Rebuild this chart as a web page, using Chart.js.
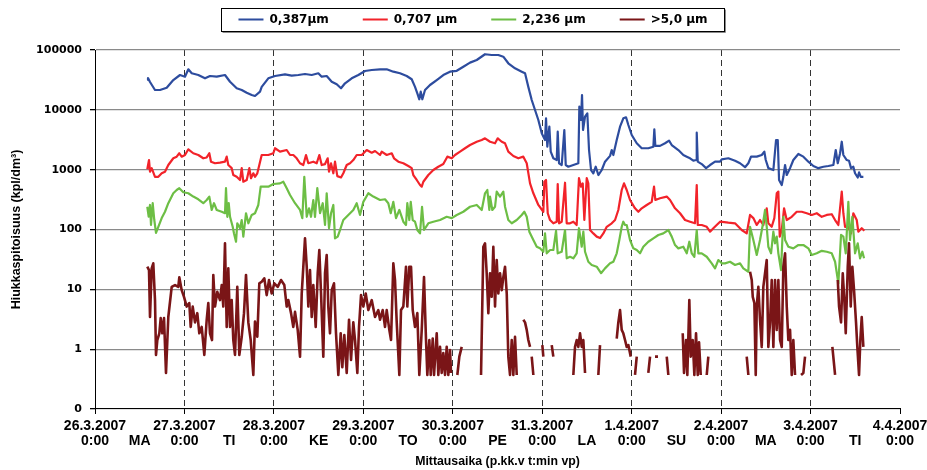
<!DOCTYPE html>
<html>
<head>
<meta charset="utf-8">
<script src="https://cdn.jsdelivr.net/npm/chart.js@4.4.1/dist/chart.umd.min.js"></script>
<style>
  html, body { margin: 0; padding: 0; background: #fff; }
  canvas { display: block; }
</style>
</head>
<body>
<canvas id="chart" width="927" height="470"></canvas>
<script>
// Particle counts per size class, hours counted from 26.3.2007 0:00
const seriesNames = ['0,387µm', '0,707 µm', '2,236 µm', '>5,0 µm'];
const dayDates = ['26.3.2007', '27.3.2007', '28.3.2007', '29.3.2007', '30.3.2007',
                  '31.3.2007', '1.4.2007', '2.4.2007', '3.4.2007', '4.4.2007'];
const dayNames = ['MA', 'TI', 'KE', 'TO', 'PE', 'LA', 'SU', 'MA', 'TI'];
const yTicks = [0.1, 1, 10, 100, 1000, 10000, 100000];

// [hour, particles per dm3]
const size0387 = [
  [14.03,31500],[14.22,34000],[14.76,29200],[16.1,21450],[17.44,21450],[19.24,23450],[21.01,31500],
  [22.81,38200],[24.15,35800],[25.04,47600],[25.95,40800],[27.72,38200],[29.52,33650],[30.86,36750],
  [32.66,35800],[34.88,38200],[36.23,29500],[38.02,22900],[39.37,21450],[40.71,19300],[42.05,17700],
  [42.93,17030],[44.28,20100],[44.73,24200],[46.5,33650],[48.3,36750],[50.98,39250],[52.78,37200],
  [54.55,38200],[56.35,39700],[58.15,38200],[59.92,40800],[60.83,35800],[62.17,36750],[63.52,29500],
  [64.86,26700],[66.01,22900],[67.09,27750],[68.88,33650],[70.66,38200],[72.45,44550],[74.25,46300],
  [76.48,47600],[78.27,47600],[80.05,43400],[81.84,40800],[83.64,36750],[84.98,32400],[85.87,24200],
  [86.49,18900],[87.02,15000],[87.4,20100],[87.83,15000],[88.55,21450],[89.89,26000],[91.69,31500],
  [93.46,38200],[95.26,43400],[97.06,44900],[98.83,52600],[100.63,61500],[102.43,68100],[104.65,85000],
  [106.45,82500],[108.22,82500],[109.56,77300],[110.9,60000],[112.7,49400],[114.5,43400],[115.39,40800],
  [116.27,24200],[117.18,14600],[118.07,9935],[118.96,6760],[119.87,4060],[120.75,3130],[121.02,7220],
  [121.37,2420],[121.91,5230],[122.28,2000],[122.98,1550],[123.89,1450],[124.16,4310],[124.51,1280],
  [125.23,1196],[125.93,4600],[126.31,1196],[127.0,1120],[128.35,1196],[129.69,1280],[129.96,11280],
  [130.41,6760],[130.68,17700],[130.95,4600],[131.49,7680],[132.1,8750],[132.56,2131],[133.1,987],
  [133.71,870],[134.36,1120],[135.06,814],[135.97,987],[136.85,1360],[138.2,1700],[138.65,2131],
  [139.08,1758],[139.99,3130],[140.88,5230],[141.76,7220],[142.49,7500],[143.11,5580],[144.02,3795],
  [145.36,2760],[146.7,2280],[148.47,2280],[149.82,2420],[150.08,4730],[150.35,2500],[151.61,2500],
  [152.95,2760],[154.03,3050],[154.75,2583],[156.52,2131],[157.86,1758],[158.78,1650],[159.66,1550],
  [160.55,1410],[161.27,1450],[161.46,4150],[161.73,1360],[162.8,1240],[163.96,1060],[165.03,1196],
  [166.37,1360],[167.72,1360],[168.17,1490],[169.94,1550],[171.74,1410],[173.08,1280],[174.42,1100],
  [175.31,1280],[176.03,1650],[177.56,1650],[178.9,1758],[179.6,2000],[179.98,1450],[180.68,1060],
  [182.02,987],[182.74,3130],[183.2,3130],[183.55,672],[184.27,554],[184.7,760],[185.16,1196],
  [185.61,814],[186.5,1060],[187.38,1450],[188.73,1830],[190.07,1650],[191.41,1360],[192.75,1150],
  [194.09,1060],[195.44,1120],[196.78,1150],[198.12,1196],[198.76,2131],[199.3,1280],[199.92,1880],
  [200.37,2930],[200.8,1758],[201.71,1450],[202.32,1410],[202.86,1060],[203.48,1120],[203.94,870],
  [204.66,740],[205.01,900],[205.47,760],[206.17,760]
];

const size0707 = [
  [14.03,1015],[14.49,1450],[14.76,925],[15.21,1060],[16.1,760],[16.99,760],[17.9,870],[18.78,925],
  [19.67,1196],[21.01,1550],[21.92,1650],[22.62,1880],[23.26,1650],[24.15,1758],[25.04,2190],
  [26.38,1880],[27.72,1758],[29.06,1550],[29.97,1600],[30.67,1880],[31.13,1360],[32.2,1280],
  [33.54,1310],[34.88,1360],[35.34,1650],[35.77,1196],[36.68,1060],[37.11,814],[38.02,760],[38.91,672],
  [39.37,1060],[39.8,628],[40.71,672],[41.41,1060],[41.86,720],[42.48,870],[42.93,760],[43.55,870],
  [44.09,1196],[44.73,1758],[46.5,1758],[47.85,1880],[48.3,2280],[49.64,2000],[51.44,2131],[52.33,1758],
  [53.21,1758],[54.12,1550],[55.01,1280],[55.89,1196],[56.62,1758],[57.24,1280],[58.58,1360],
  [59.49,1280],[60.19,1758],[60.83,1196],[61.72,1240],[62.44,1550],[62.79,925],[63.33,1280],[63.95,870],
  [64.4,1360],[65.02,780],[66.01,740],[66.63,870],[67.54,1196],[68.43,1280],[69.31,1450],[70.22,1758],
  [71.57,1758],[72.91,2131],[74.25,1920],[75.14,2050],[76.48,1758],[76.93,2000],[78.27,1758],
  [79.62,1880],[80.23,1550],[81.39,1360],[82.73,1280],[84.07,1150],[84.98,1060],[85.41,814],[86.33,672],
  [87.21,554],[87.67,520],[88.1,628],[89.44,814],[90.78,987],[92.12,1120],[93.46,1240],[94.54,1650],
  [95.72,1550],[96.6,1758],[97.95,2000],[99.29,2280],[100.63,2583],[102.43,2930],[103.77,3130],
  [104.65,3340],[106,2930],[107.34,2760],[108.06,3340],[109.14,2930],[110.02,2760],[110.9,2000],
  [112.25,1690],[113.59,1550],[114.93,1650],[115.84,1280],[116.73,590],[117.62,403],[118.96,257],
  [120.3,198],[120.57,628],[121.02,672],[121.48,187],[122.1,144],[122.98,127],[123.89,135],[124.16,576],
  [124.51,127],[125.23,135],[126.12,605],[126.57,127],[127.46,127],[128.35,135],[129.24,119],
  [129.86,720],[130.41,520],[130.87,590],[131.3,144],[131.94,720],[132.37,590],[132.83,98],[133.71,86],
  [134.62,76],[135.51,72],[136.4,86],[137.31,111],[138.65,127],[139.54,144],[140.42,212],[141.33,457],
  [141.95,590],[142.67,457],[143.56,311],[144.9,226],[145.79,198],[146.7,226],[148.04,257],[149.38,290],
  [150.0,520],[150.35,311],[151.61,333],[153.41,355],[154.3,311],[155.64,226],[156.98,187],[158.32,144],
  [159.66,135],[161.0,127],[161.46,554],[161.73,119],[162.8,119],[164.14,111],[165.03,92],[165.92,105],
  [167.72,135],[169.94,130],[171.74,127],[173.53,98],[174.87,86],[175.76,175],[176.65,155],[177.56,119],
  [178.44,144],[179.33,119],[180.24,226],[180.67,127],[181.58,111],[182.28,155],[182.93,403],
  [183.36,430],[183.73,76],[184.27,98],[184.89,226],[185.61,144],[186.95,163],[188.29,198],[189.64,198],
  [190.98,187],[192.32,175],[193.66,187],[195.0,163],[196.35,175],[197.69,180],[198.58,144],[199.46,119],
  [200.37,430],[200.8,187],[201.26,111],[202.14,111],[202.86,86],[203.48,187],[204.39,144],[204.82,92],
  [205.73,105],[206.43,95]
];

const size2236 = [
  [14.03,240],[14.4,164],[14.76,257],[15.03,119],[15.48,275],[15.91,144],[16.37,88],[16.99,111],
  [17.9,155],[18.78,198],[19.67,275],[21.01,403],[21.92,457],[22.62,490],[23.69,420],[25.04,403],
  [26.38,355],[27.72,320],[29.06,275],[29.97,311],[30.67,355],[31.32,212],[31.93,275],[32.66,212],
  [34.0,198],[34.88,187],[35.15,490],[35.5,163],[35.88,275],[36.23,163],[36.95,111],[37.3,86],
  [37.84,62.5],[38.18,127],[38.91,105],[39.37,144],[39.8,76],[40.52,187],[41.14,127],[42.05,175],
  [42.93,187],[43.82,257],[44.46,520],[46.5,520],[47.85,576],[49.64,590],[50.53,628],[51.44,490],
  [52.33,377],[53.67,275],[55.01,212],[55.63,155],[56.16,760],[56.81,163],[57.43,226],[57.96,163],
  [58.58,311],[59.03,163],[59.65,490],[60.38,187],[61.1,275],[61.72,119],[62.17,403],[62.79,105],
  [63.33,187],[63.95,257],[64.4,71],[65.13,76],[65.74,98],[66.63,144],[67.97,175],[69.31,212],
  [70.22,275],[71.11,175],[72.0,290],[73.34,403],[74.68,355],[76.48,311],[77.82,320],[78.7,275],
  [79.35,187],[80.05,290],[80.77,155],[81.66,212],[82.73,135],[83.45,119],[83.8,275],[84.34,144],
  [84.72,290],[85.25,144],[85.87,135],[86.49,98],[87.21,86],[87.75,240],[88.28,98],[89.44,127],
  [90.78,135],[92.58,144],[94.37,163],[95.72,155],[97.06,175],[98.83,198],[100.63,240],[102.43,257],
  [103.77,212],[104.65,403],[105.27,457],[105.81,212],[106.0,355],[106.61,212],[107.34,240],[107.79,430],
  [108.68,355],[109.56,430],[110.02,240],[110.9,144],[111.82,127],[113.16,144],[114.5,175],[115.2,198],
  [115.84,163],[116.54,92],[117.62,66.7],[118.53,51.5],[119.41,48.4],[120.3,42.5],[120.75,86],
  [121.21,40],[122.1,45.4],[122.98,45.4],[123.71,95],[124.16,40],[125.23,42.5],[126.12,98],[126.57,33],
  [127.46,35],[128.35,33],[129.24,40],[129.86,105],[130.6,51.5],[131.03,92],[131.49,42.5],[132.37,28.9],
  [133.28,25.5],[134.62,23.9],[135.78,18.6],[136.85,22.4],[138.2,27.2],[139.08,28.9],[139.99,40],
  [140.69,66.7],[141.33,111],[141.76,135],[142.22,119],[142.67,119],[143.56,66.7],[144.45,48.4],
  [145.36,45.4],[146.25,40],[147.13,51.5],[148.47,62.5],[149.82,71],[151.16,81],[152.5,86],[153.84,98],
  [154.75,76],[155.64,55],[156.52,48.4],[157.86,51.5],[158.78,40],[159.47,62.5],[160.12,40],[160.82,35],
  [161.46,98],[161.89,40],[162.8,40],[164.14,35],[165.48,27.2],[166.37,22.4],[167.26,30.9],[168.17,27.2],
  [169.05,27.2],[170.39,28.9],[171.74,25.5],[173.08,27.2],[173.96,22.4],[175.31,19.7],[175.76,111],
  [176.65,66.7],[177.56,37.5],[178.44,66.7],[179.17,119],[179.79,212],[180.24,111],[180.67,51.5],
  [181.4,40],[182.02,92],[182.47,58.8],[182.93,76],[183.36,40],[184.08,21],[184.7,163],[185.16,66.7],
  [186.04,51.5],[187.38,48.4],[188.73,55],[190.07,55],[191.41,48.4],[192.32,37.5],[193.66,40],[195.0,44],
  [196.35,42.5],[197.69,40],[198.58,28.9],[199.46,12.6],[200.18,81],[200.8,76],[201.44,40],[202.14,290],
  [202.59,66.7],[203.21,163],[203.94,40],[204.66,58.8],[205.28,33],[205.9,42.5],[206.35,33]
];

// null = no particles counted (gap on the log axis)
const size50 = [
  [14.03,23.9],[14.49,21],[14.76,3.45],[15.21,22.4],[15.64,27.2],[16.1,6.6],[16.37,0.8],[16.72,1.42],
  [17.26,1.84],[17.63,3.3],[18.06,1.84],[18.52,3.3],[19.05,0.4],[19.67,3.45],[20.58,11],[21.47,11.8],
  [22.35,11],[22.62,15.9],[23.26,9.7],[23.88,7.5],[24.61,5.15],[25.3,5.9],[25.68,2.35],[26.22,5.15],
  [26.83,2.8],[27.45,4.0],[27.99,1.84],[28.63,2.35],[29.33,0.8],[29.97,3.1],[30.4,5.9],[30.86,1.84],
  [31.4,1.42],[31.74,17.4],[32.2,5.15],[32.82,9.1],[33.54,6.6],[34.0,11.8],[34.43,5.15],[34.88,58.8],
  [35.34,2.35],[35.77,22.4],[36.23,2.35],[36.68,6.6],[37.11,1.42],[37.57,0.8],[38.18,11],[38.72,0.8],
  [39.37,1.61],[39.98,4.0],[40.52,17.4],[41.14,2.8],[41.78,1.42],[42.48,0.37],[42.93,2.9],[43.55,1.61],
  [44.09,12.6],[44.73,13.4],[45.43,15.3],[46.07,8],[46.69,14.3],[47.41,8.5],[48.11,12.6],[49.03,11],
  [49.91,14.3],[50.8,11.8],[51.44,5.15],[51.87,6.6],[52.6,4.0],[53.21,2.35],[53.67,4.2],[54.39,2.1],
  [55.01,0.75],[55.47,8.5],[55.9,23.9],[56.35,71],[56.81,23.9],[57.24,5.15],[57.69,21],[58.15,3.45],
  [58.58,11.8],[59.22,2.35],[59.76,18.6],[60.19,45.4],[60.65,8.5],[61.26,0.75],[61.72,18.6],[62.17,37.5],
  [62.6,5.15],[63.06,1.84],[63.52,9.7],[64.13,12.6],[64.67,1.84],[65.29,0.37],[65.93,1.84],[66.36,0.5],
  [66.9,1.72],[67.54,0.4],[68.16,3.1],[68.7,0.66],[69.31,2.8],[69.77,1.42],[70.39,0.4],[70.84,2.35],
  [71.38,8],[72.0,5.15],[72.64,8.5],[73.34,4.5],[74.25,6.6],[75.14,3.45],[76.02,4.5],[76.48,3.1],
  [77.2,4.5],[77.82,2.35],[78.27,4.5],[78.97,2.1],[79.43,1.42],[80.05,27.2],[80.5,14.3],[80.96,2.8],
  [81.66,0.37],[82.11,4.5],[82.73,5.15],[83.45,23.9],[83.8,5.15],[84.34,23.9],[84.8,23.9],[85.25,4.5],
  [85.87,2.35],[86.49,4.0],[87.02,0.37],[87.67,2.1],[88.28,16],[88.82,1.42],[89.17,0.37],[89.71,1.42],
  [90.08,0.37],[90.62,1.5],[90.97,0.37],[91.69,1.84],[92.12,0.37],[92.58,1.09],[93.03,0.4],[93.46,0.86],
  [93.92,0.37],[94.37,1.09],[94.8,0.37],[95.26,0.97],[95.53,0.4],[96.4,null],[97.22,0.37],[97.76,0.75],
  [98.4,1.09],[101,null],[103.58,0.37],[104.2,51.5],[104.65,58.8],[105.1,18.6],[105.54,4.0],[106,18.6],
  [106.45,7.5],[106.88,51.5],[107.34,5.15],[107.79,30.9],[108.22,8.5],[108.68,18.6],[109.14,9.7],
  [109.56,16],[110.02,23.9],[110.48,8.5],[110.9,0.75],[111.36,0.37],[111.82,1.42],[112.25,0.37],
  [112.7,1.61],[113.16,0.37],[114,null],[114.93,3.1],[115.39,2.8],[115.84,2.1],[116.27,1.42],[116.73,1.09],
  [116.9,null],[117.18,0.75],[117.62,0.37],[119,null],[120.03,1.17],[120.3,0.75],[121.5,null],
  [122.55,1.17],[122.98,0.75],[125,null],[128.35,0.37],[128.8,1.09],[129.26,1.42],[129.69,1.09],
  [130.15,1.84],[130.6,1.09],[131.03,1.42],[131.49,0.4],[133,null],[135.06,0.37],[135.51,1.17],[137,null],
  [139.99,1.5],[140.42,2.8],[140.88,4.5],[141.33,2.1],[141.76,1.84],[142.22,1.42],[142.67,1.09],
  [143.11,1.17],[143.75,0.75],[144.3,null],[144.9,0.37],[145.36,0.75],[147,null],[148.47,0.4],
  [148.93,0.75],[149.6,null],[150.27,0.75],[151.07,0.75],[152,null],[153.41,0.75],[153.84,0.37],
  [155,null],[157.7,1.84],[158.05,0.4],[158.59,1.42],[158.94,0.37],[159.47,6.6],[159.85,0.75],
  [160.39,1.42],[160.82,0.37],[161.27,1.84],[161.73,0.37],[162.08,1.3],[162.53,0.37],[163.3,null],
  [164.14,0.37],[164.57,0.75],[170,null],[174.87,0.75],[175.31,0.37],[175.5,null],[175.76,19.7],
  [176.22,14.3],[176.49,7.5],[176.92,5.9],[177.29,0.37],[177.56,5.15],[177.99,11],[178.44,3.1],
  [178.9,1.09],[179.33,11],[179.79,18.6],[180.24,30.9],[180.67,1.09],[181.13,2.8],[181.58,14.3],
  [182.02,1.09],[182.47,14.3],[182.93,2.1],[183.36,14.3],[183.82,1.42],[184.27,1.09],[184.7,23.9],
  [185.16,40],[185.61,5.15],[186.04,1.42],[186.5,2.1],[186.95,0.37],[187.38,1.42],[187.84,0.37],
  [188.6,null],[189.45,0.37],[190.07,0.4],[190.52,0.75],[194,null],[197.85,1.09],[198.58,0.37],
  [198.9,null],[199.3,14.3],[199.65,5.15],[200.18,2.8],[200.64,18.6],[201.07,6.6],[201.44,1.84],
  [201.98,23.9],[202.32,58.8],[202.78,5.15],[203.21,23.9],[203.67,9.7],[204.2,2.8],[204.55,1.09],
  [205.01,0.37],[205.36,1.42],[205.73,3.45],[206.17,1.09]
];

const seriesColors = ['#2D4C9E', '#F2232A', '#6DBE45', '#7A1517'];
const seriesWidths = [2.2, 2.2, 2.2, 2.6];

const HOURS_PER_DAY = 24;
const lastHour = (dayDates.length - 1) * HOURS_PER_DAY;
const xTickHours = [];
for (let h = 0; h <= lastHour; h += HOURS_PER_DAY / 2) xTickHours.push(h);

const LEGEND_PAD = 34;
const LEGEND_FONT = 12;
const ARIAL = "'Liberation Sans', Arial, sans-serif";

Chart.defaults.font.family = "'DejaVu Sans', 'Liberation Sans', sans-serif";
Chart.defaults.font.weight = 'bold';
Chart.defaults.color = '#000';

const toPoints = rows => rows.map(([h, v]) => ({ x: h, y: v }));
const isMidnight = v => v % HOURS_PER_DAY === 0;

// legend sits in a framed strip above the plot
const legendFrame = {
  id: 'legendFrame',
  beforeLayout(chart) {
    const lg = chart.legend;
    if (lg && !lg._heightFixed) {
      const fit = lg.fit.bind(lg);
      lg.fit = function () { fit(); this.height = 50; };
      lg._heightFixed = true;
    }
  },
  afterLayout(chart) {
    const lg = chart.legend;
    const dy = 13.5 - LEGEND_PAD - LEGEND_FONT / 2 + 6;
    lg.top += dy; lg.bottom += dy;
    lg.left += 23; lg.right += 23;
  },
  afterDraw(chart) {
    const lg = chart.legend;
    const w = lg.lineWidths[0] - LEGEND_PAD;
    const cx = (lg.left + lg.right) / 2;
    const x0 = Math.round(cx - w / 2 - 17) + 0.5;
    const fw = Math.round(w + 34);
    const ctx = chart.ctx;
    ctx.save();
    ctx.strokeStyle = '#8a8a8a';
    ctx.lineWidth = 1;
    ctx.beginPath();
    ctx.moveTo(x0 + 1, 32.5); ctx.lineTo(x0 + fw + 1, 32.5); ctx.lineTo(x0 + fw + 1, 9.5);
    ctx.stroke();
    ctx.strokeStyle = '#000';
    ctx.strokeRect(x0, 8.5, fw, 23);
    ctx.restore();
  }
};

const datasets = [size0387, size0707, size2236, size50].map((rows, i) => ({
  label: seriesNames[i],
  data: toPoints(rows),
  borderColor: seriesColors[i],
  backgroundColor: seriesColors[i],
  borderWidth: seriesWidths[i],
  pointRadius: 0,
  tension: 0,
  fill: false,
  spanGaps: false,
  borderJoinStyle: 'round',
  order: 4 - i
}));

new Chart(document.getElementById('chart'), {
  type: 'line',
  data: { datasets },
  plugins: [legendFrame],
  options: {
    responsive: false,
    animation: false,
    events: [],
    layout: { padding: { left: 0, right: 27, top: 0, bottom: 0 } },
    plugins: {
      tooltip: { enabled: false },
      legend: {
        position: 'top',
        labels: {
          boxWidth: 25,
          boxHeight: 2,
          padding: LEGEND_PAD,
          color: '#000',
          font: { size: LEGEND_FONT, weight: 'bold' },
          sort: (a, b) => a.datasetIndex - b.datasetIndex,
          generateLabels: chart =>
            Chart.defaults.plugins.legend.labels.generateLabels(chart)
              .map(item => Object.assign(item, { lineWidth: 0 }))
        }
      }
    },
    scales: {
      x: {
        type: 'linear',
        min: 0,
        max: lastHour,
        afterBuildTicks: s => { s.ticks = xTickHours.map(v => ({ value: v })); },
        afterFit: s => { s.paddingLeft = 0; s.paddingRight = 0; },
        ticks: {
          autoSkip: false,
          maxRotation: 0,
          minRotation: 0,
          padding: 5,
          color: '#000',
          font: { family: ARIAL, size: 14, weight: 'bold', lineHeight: 1.036 },
          callback: v => isMidnight(v)
            ? [dayDates[v / HOURS_PER_DAY], '0:00']
            : ['', dayNames[(v - HOURS_PER_DAY / 2) / HOURS_PER_DAY]]
        },
        grid: {
          lineWidth: 1,
          tickLength: 5,
          color: c => (c.tick && isMidnight(c.tick.value) && c.tick.value > 0 && c.tick.value < lastHour)
            ? '#333' : 'rgba(0,0,0,0)',
          tickColor: c => (c.tick && isMidnight(c.tick.value)) ? '#000' : 'rgba(0,0,0,0)'
        },
        border: { color: '#000', width: 1, dash: [6, 4] },
        title: {
          display: true,
          text: 'Mittausaika (p.kk.v t:min vp)',
          color: '#000',
          font: { family: ARIAL, size: 12.3, weight: 'bold', lineHeight: 1.0 },
          padding: { top: 2, bottom: 2.7 }
        }
      },
      y: {
        type: 'logarithmic',
        min: 0.1,
        max: 100000,
        afterBuildTicks: s => { s.ticks = yTicks.map(v => ({ value: v })); },
        afterFit: s => { s.width = 95; },
        ticks: {
          padding: 8,
          color: '#000',
          font: { size: 11, weight: 'bold' },
          callback: v => (v === yTicks[0] ? '0' : String(v))
        },
        grid: { color: '#8a8a8a', lineWidth: 1.3, tickColor: '#000', tickLength: 5 },
        border: { color: '#000', width: 1 },
        title: {
          display: true,
          text: 'Hiukkaspitoisuus (kpl/dm³)',
          color: '#000',
          font: { family: ARIAL, size: 12.5, weight: 'bold' },
          padding: { top: 9.5, bottom: 0 }
        }
      }
    }
  }
});
</script>
</body>
</html>
